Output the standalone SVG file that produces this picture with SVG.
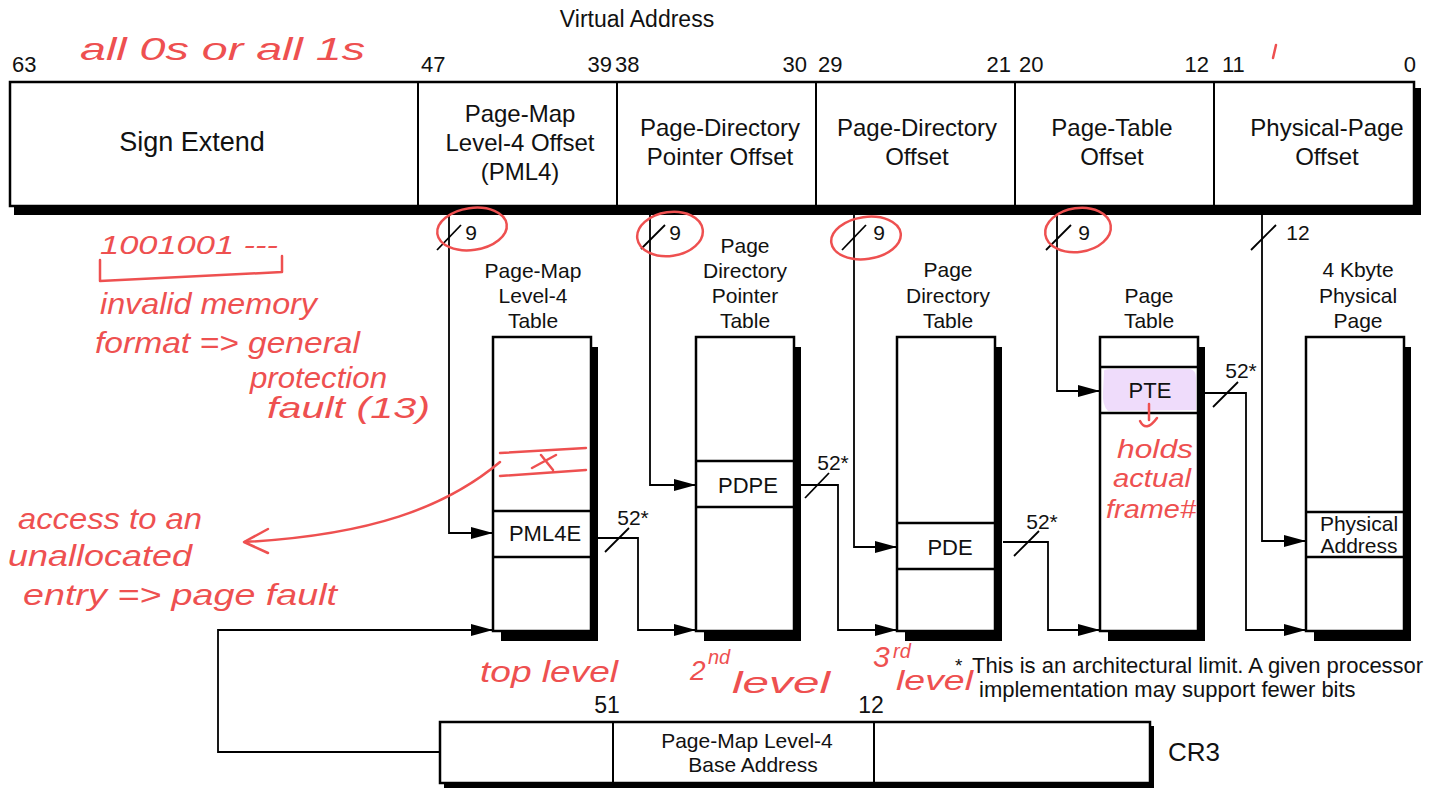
<svg xmlns="http://www.w3.org/2000/svg" width="1430" height="788" viewBox="0 0 1430 788">
<style>
.t{font-family:"Liberation Sans",Arial,sans-serif;fill:#111;text-anchor:middle}
.s{text-anchor:start}
.e{text-anchor:end}
.box{fill:#fff;stroke:#000;stroke-width:2.5}
.sh{fill:#000}
.row{stroke:#000;stroke-width:2.5}
.div{stroke:#000;stroke-width:2}
.c{fill:none;stroke:#000;stroke-width:1.8}
.sl{stroke:#000;stroke-width:1.8}
.h{font-family:"Liberation Sans",sans-serif;font-style:italic;fill:#EE5050}
.hs{fill:none;stroke:#EE5050;stroke-width:2.5;stroke-linecap:round;stroke-linejoin:round}
</style>
<defs>
<marker id="arr" viewBox="0 0 22 12" refX="22" refY="6" markerWidth="22" markerHeight="12" markerUnits="userSpaceOnUse" orient="auto">
<path d="M0,0 L22,6 L0,12 Z" fill="#000"/>
</marker>
</defs>
<rect width="1430" height="788" fill="#fff"/>

<text class="t" x="637" y="27" font-size="23">Virtual Address</text>

<g id="virtual-address">
<rect class="sh" x="14" y="88" width="1407" height="127"/>
<rect class="box" x="10" y="82" width="1404" height="124"/>
<line class="div" x1="418" y1="82" x2="418" y2="206"/>
<line class="div" x1="617" y1="82" x2="617" y2="206"/>
<line class="div" x1="816" y1="82" x2="816" y2="206"/>
<line class="div" x1="1015" y1="82" x2="1015" y2="206"/>
<line class="div" x1="1214" y1="82" x2="1214" y2="206"/>
<g font-size="22">
<text class="t s" x="12" y="72">63</text>
<text class="t s" x="421" y="72">47</text>
<text class="t e" x="612" y="72">39</text>
<text class="t s" x="615" y="72">38</text>
<text class="t e" x="807" y="72">30</text>
<text class="t s" x="818" y="72">29</text>
<text class="t e" x="1011" y="72">21</text>
<text class="t s" x="1019" y="72">20</text>
<text class="t e" x="1209" y="72">12</text>
<text class="t s" x="1222" y="72">11</text>
<text class="t e" x="1416" y="72">0</text>
</g>
<text class="t" x="192" y="151" font-size="27">Sign Extend</text>
<g font-size="24">
<text class="t" x="520" y="122">Page-Map</text>
<text class="t" x="520" y="151">Level-4 Offset</text>
<text class="t" x="520" y="180">(PML4)</text>
<text class="t" x="720" y="136">Page-Directory</text>
<text class="t" x="720" y="165">Pointer Offset</text>
<text class="t" x="917" y="136">Page-Directory</text>
<text class="t" x="917" y="165">Offset</text>
<text class="t" x="1112" y="136">Page-Table</text>
<text class="t" x="1112" y="165">Offset</text>
<text class="t" x="1327" y="136">Physical-Page</text>
<text class="t" x="1327" y="165">Offset</text>
</g>
</g>

<g id="pml4-table">
<text class="t" x="533" y="278" font-size="21">Page-Map</text>
<text class="t" x="533" y="303" font-size="21">Level-4</text>
<text class="t" x="533" y="328" font-size="21">Table</text>
<rect class="sh" x="501" y="347" width="97" height="294"/>
<rect class="box" x="493" y="337" width="98" height="294"/>
<line class="row" x1="493" y1="511" x2="591" y2="511"/>
<line class="row" x1="493" y1="557" x2="591" y2="557"/>
<text class="t" x="545" y="541" font-size="22">PML4E</text>
</g>

<g id="pdp-table">
<text class="t" x="745" y="253" font-size="21">Page</text>
<text class="t" x="745" y="278" font-size="21">Directory</text>
<text class="t" x="745" y="303" font-size="21">Pointer</text>
<text class="t" x="745" y="328" font-size="21">Table</text>
<rect class="sh" x="704" y="347" width="97" height="294"/>
<rect class="box" x="696" y="337" width="98" height="294"/>
<line class="row" x1="696" y1="461" x2="794" y2="461"/>
<line class="row" x1="696" y1="507" x2="794" y2="507"/>
<text class="t" x="748" y="493" font-size="22">PDPE</text>
</g>

<g id="pd-table">
<text class="t" x="948" y="277" font-size="21">Page</text>
<text class="t" x="948" y="303" font-size="21">Directory</text>
<text class="t" x="948" y="328" font-size="21">Table</text>
<rect class="sh" x="905" y="347" width="97" height="294"/>
<rect class="box" x="897" y="337" width="98" height="294"/>
<line class="row" x1="897" y1="523" x2="995" y2="523"/>
<line class="row" x1="897" y1="569" x2="995" y2="569"/>
<text class="t" x="950" y="555" font-size="22">PDE</text>
</g>

<g id="page-table">
<text class="t" x="1149" y="303" font-size="21">Page</text>
<text class="t" x="1149" y="328" font-size="21">Table</text>
<rect class="sh" x="1108" y="347" width="97" height="294"/>
<rect class="box" x="1100" y="337" width="98" height="294"/>
<path d="M1104,372 Q1102,369 1112,369 L1190,369 Q1196,370 1196,378 L1196,410 L1108,411 Q1102,405 1103,392 Z" fill="#EFDCFB"/>
<line class="row" x1="1100" y1="367" x2="1198" y2="367"/>
<line class="row" x1="1100" y1="413" x2="1198" y2="413"/>
<text class="t" x="1150" y="398" font-size="22">PTE</text>
</g>

<g id="physical-page">
<text class="t" x="1358" y="277" font-size="21">4 Kbyte</text>
<text class="t" x="1358" y="303" font-size="21">Physical</text>
<text class="t" x="1358" y="328" font-size="21">Page</text>
<rect class="sh" x="1314" y="347" width="97" height="294"/>
<rect class="box" x="1306" y="337" width="98" height="294"/>
<line class="row" x1="1306" y1="512" x2="1404" y2="512"/>
<line class="row" x1="1306" y1="557" x2="1404" y2="557"/>
<text class="t" x="1359" y="531" font-size="21">Physical</text>
<text class="t" x="1359" y="553" font-size="21">Address</text>
</g>

<g id="cr3">
<rect class="sh" x="444" y="726" width="710" height="62"/>
<rect class="box" x="440" y="722" width="710" height="61" stroke-width="2"/>
<line class="div" x1="613" y1="722" x2="613" y2="783"/>
<line class="div" x1="874" y1="722" x2="874" y2="783"/>
<text class="t" x="607" y="713" font-size="23">51</text>
<text class="t" x="871" y="713" font-size="23">12</text>
<text class="t" x="747" y="748" font-size="21">Page-Map Level-4</text>
<text class="t" x="753" y="772" font-size="21">Base Address</text>
<text class="t s" x="1168" y="761" font-size="26">CR3</text>
</g>

<g id="footnote">
<text class="t s" x="955" y="672" font-size="19">*</text>
<text class="t s" x="972" y="673" font-size="22">This is an architectural limit. A given processor</text>
<text class="t s" x="979" y="697" font-size="22">implementation may support fewer bits</text>
</g>

<g id="connectors">
<path class="c" d="M449,215 V533 H493" marker-end="url(#arr)"/>
<path class="c" d="M650,215 V485 H696" marker-end="url(#arr)"/>
<path class="c" d="M854,215 V547 H897" marker-end="url(#arr)"/>
<path class="c" d="M1057,215 V391 H1100" marker-end="url(#arr)"/>
<path class="c" d="M1262,215 V541 H1306" marker-end="url(#arr)"/>
<path class="c" d="M598,538 H638 V630 H696" marker-end="url(#arr)"/>
<path class="c" d="M801,485 H838 V630 H897" marker-end="url(#arr)"/>
<path class="c" d="M1003,542 H1048 V630 H1100" marker-end="url(#arr)"/>
<path class="c" d="M1205,393 H1246 V630 H1306" marker-end="url(#arr)"/>
<path class="c" d="M440,752 H218 V630 H493" marker-end="url(#arr)"/>
<line class="sl" x1="437" y1="250" x2="461" y2="225"/>
<line class="sl" x1="641" y1="249" x2="665" y2="225"/>
<line class="sl" x1="842" y1="250" x2="866" y2="225"/>
<line class="sl" x1="1046" y1="250" x2="1071" y2="225"/>
<line class="sl" x1="1251" y1="250" x2="1276" y2="225"/>
<line class="sl" x1="605" y1="552" x2="629" y2="528"/>
<line class="sl" x1="805" y1="498" x2="829" y2="473"/>
<line class="sl" x1="1014" y1="556" x2="1039" y2="531"/>
<line class="sl" x1="1213" y1="407" x2="1238" y2="382"/>
<g font-size="21">
<text class="t" x="471" y="240">9</text>
<text class="t" x="675" y="240">9</text>
<text class="t" x="879" y="240">9</text>
<text class="t" x="1084" y="240">9</text>
<text class="t" x="1298" y="240">12</text>
<text class="t" x="633" y="525">52*</text>
<text class="t" x="833" y="470">52*</text>
<text class="t" x="1042" y="529">52*</text>
<text class="t" x="1241" y="378">52*</text>
</g>
</g>

<g id="annotations">
<text class="h" x="80" y="60" font-size="32" textLength="285" lengthAdjust="spacingAndGlyphs">all 0s or all 1s</text>
<line class="hs" x1="1276" y1="45" x2="1273" y2="58" stroke-width="1"/>
<ellipse class="hs" cx="472" cy="229" rx="35" ry="21" transform="rotate(-8 472 229)"/>
<ellipse class="hs" cx="670" cy="234" rx="33" ry="22" transform="rotate(-8 670 234)"/>
<ellipse class="hs" cx="866" cy="238" rx="35" ry="21" transform="rotate(-8 866 238)"/>
<ellipse class="hs" cx="1078" cy="230" rx="33" ry="22" transform="rotate(-8 1078 230)"/>
<text class="h" x="100" y="254" font-size="26" textLength="178" lengthAdjust="spacingAndGlyphs">1001001 ---</text>
<path class="hs" d="M100,260 V281 L282,272 V256"/>
<text class="h" x="100" y="314" font-size="29" textLength="217" lengthAdjust="spacingAndGlyphs">invalid memory</text>
<text class="h" x="95" y="353" font-size="29" textLength="265" lengthAdjust="spacingAndGlyphs">format =&gt; general</text>
<text class="h" x="250" y="388" font-size="29" textLength="137" lengthAdjust="spacingAndGlyphs">protection</text>
<text class="h" x="267" y="418" font-size="29" textLength="163" lengthAdjust="spacingAndGlyphs">fault (13)</text>
<text class="h" x="18" y="529" font-size="29" textLength="184" lengthAdjust="spacingAndGlyphs">access to an</text>
<text class="h" x="8" y="566" font-size="29" textLength="184" lengthAdjust="spacingAndGlyphs">unallocated</text>
<text class="h" x="23" y="605" font-size="29" textLength="314" lengthAdjust="spacingAndGlyphs">entry =&gt; page fault</text>
<path class="hs" d="M500,462 C445,508 370,535 245,542" stroke-width="2"/>
<path class="hs" d="M268,529 L244,542 L268,553" stroke-width="2"/>
<path class="hs" d="M500,453 L586,448 M500,476 L586,470 M532,468 L556,455 M541,455 L553,470" stroke-width="2"/>
<path class="hs" d="M1149,404 V420 M1140,421 Q1146,433 1157,418" stroke-width="2"/>
<text class="h" x="1117" y="458" font-size="26" textLength="76" lengthAdjust="spacingAndGlyphs">holds</text>
<text class="h" x="1113" y="487" font-size="26" textLength="78" lengthAdjust="spacingAndGlyphs">actual</text>
<text class="h" x="1106" y="518" font-size="26" textLength="90" lengthAdjust="spacingAndGlyphs">frame#</text>
<text class="h" x="480" y="682" font-size="30" textLength="138" lengthAdjust="spacingAndGlyphs">top level</text>
<text class="h" x="690" y="680" font-size="28">2</text>
<text class="h" x="708" y="664" font-size="20">nd</text>
<text class="h" x="732" y="693" font-size="30" textLength="98" lengthAdjust="spacingAndGlyphs">level</text>
<text class="h" x="873" y="667" font-size="30">3</text>
<text class="h" x="893" y="658" font-size="20">rd</text>
<text class="h" x="896" y="690" font-size="28" textLength="77" lengthAdjust="spacingAndGlyphs">level</text>
</g>
</svg>
